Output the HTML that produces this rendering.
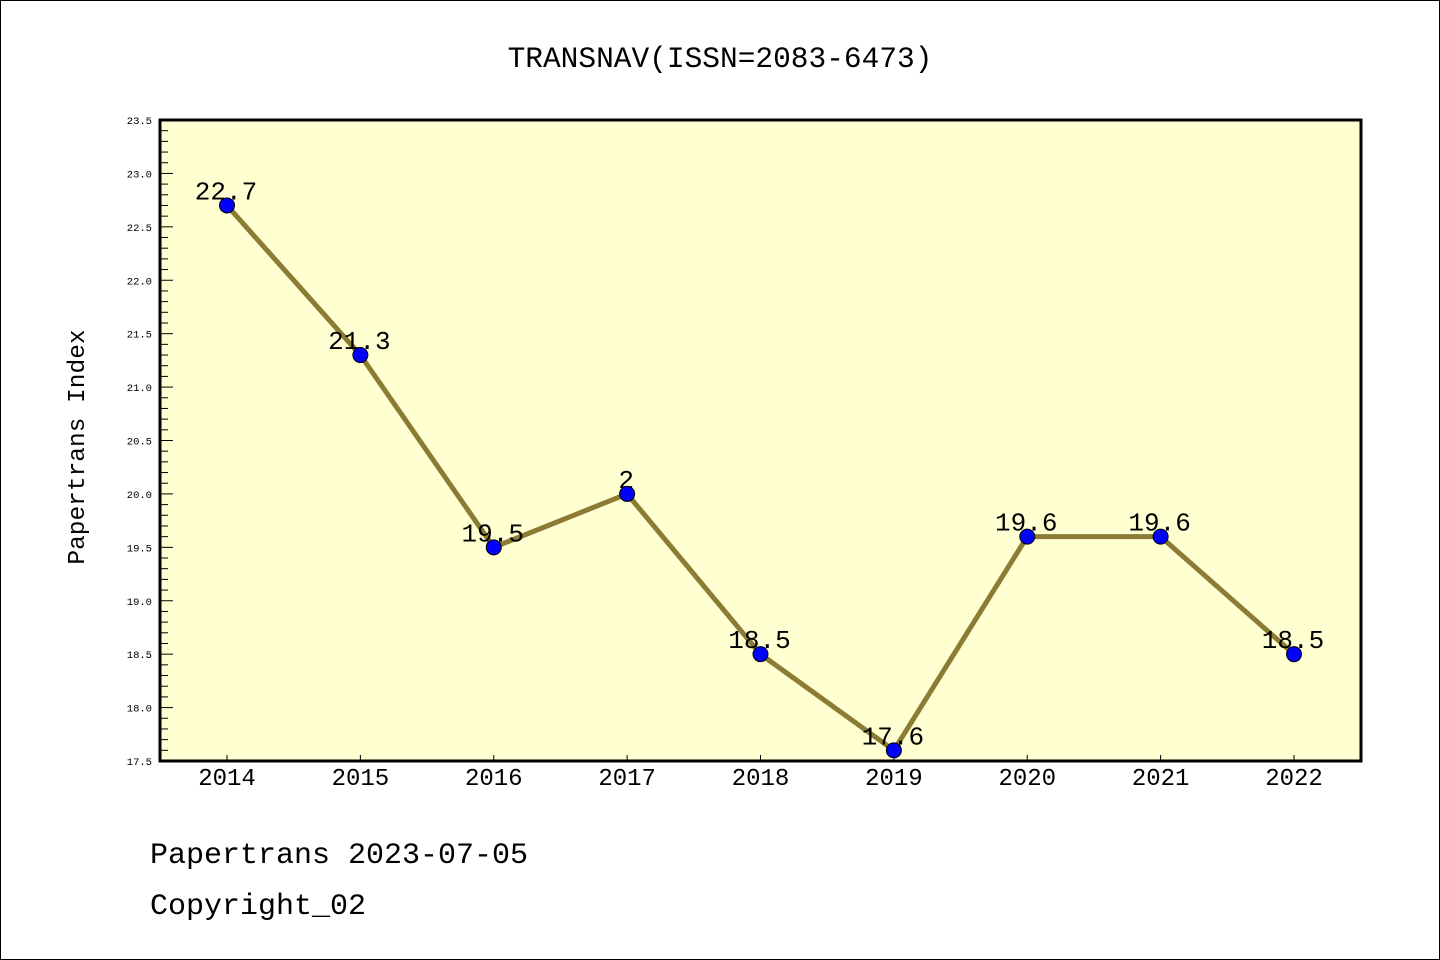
<!DOCTYPE html>
<html><head><meta charset="utf-8"><style>
html,body{margin:0;padding:0;background:#fff}
svg{display:block}
text{font-family:"Liberation Mono","WenQuanYi Zen Hei",monospace}
</style></head><body>
<svg id="chart" width="1440" height="960" xmlns="http://www.w3.org/2000/svg">
<rect x="0.5" y="0.5" width="1439" height="959" fill="#fff" stroke="#000"/>
<text x="720" y="67" font-size="29.5" text-anchor="middle">TRANSNAV(ISSN=2083-6473)</text>
<rect x="160" y="120" width="1201" height="641" fill="#ffffd2"/>
<g id="yaxis"></g>
<g id="xaxis"></g>
<g id="series"></g>
<rect x="160" y="120" width="1201" height="641" fill="none" stroke="#000" stroke-width="3"/>
<text transform="translate(84,447) rotate(-90)" font-size="24.5" text-anchor="middle">Papertrans Index</text>
<text x="150" y="863" font-size="30">Papertrans 2023-07-05</text>
<text x="150" y="914" font-size="30">Copyright_02</text>
</svg>
<script>
const years = [2014,2015,2016,2017,2018,2019,2020,2021,2022];
const values = [22.7,21.3,19.5,20.0,18.5,17.6,19.6,19.6,18.5];
const valueLabels = ["22.7","21.3","19.5","2","18.5","17.6","19.6","19.6","18.5"];
const yTicks = [17.5,18.0,18.5,19.0,19.5,20.0,20.5,21.0,21.5,22.0,22.5,23.0,23.5];
const NS="http://www.w3.org/2000/svg";
const y0=17.5,y1=23.5,py0=761,py1=120;
const X=i=>227+i*(1294-227)/(years.length-1);
const Y=v=>py0-(v-y0)/(y1-y0)*(py0-py1);
function mk(t,a,p){const e=document.createElementNS(NS,t);for(const k in a)e.setAttribute(k,a[k]);p.appendChild(e);return e;}
const ya=document.getElementById('yaxis');
for(let v=175;v<=235;v++){
  const y=Y(v/10);const major=v%5===0;
  const l=mk('line',{x1:160,x2:major?173:168,y1:y,y2:y,stroke:'#000','stroke-width':1},ya);
  
  
}
yTicks.forEach(v=>{
  const t=mk('text',{x:152,y:Y(v)+4,'font-size':10.5,'text-anchor':'end'},ya);
  t.textContent=v.toFixed(1);
  
  
});
const xa=document.getElementById('xaxis');
years.forEach((yr,i)=>{
  const l=mk('line',{x1:X(i),x2:X(i),y1:761,y2:755,stroke:'#000'},xa);
  
  
  const t=mk('text',{x:X(i),y:785,'font-size':24,'text-anchor':'middle'},xa);
  t.textContent=yr;
  
  
});
const s=document.getElementById('series');
const pl=mk('polyline',{points:values.map((v,i)=>X(i)+','+Y(v)).join(' '),fill:'none',stroke:'#8b7b35','stroke-width':5},s);


values.forEach((v,i)=>{
  const t=mk('text',{x:X(i)-1,y:Y(v)-6,'font-size':26,'text-anchor':'middle'},s);
  t.textContent=valueLabels[i];
  
  
});
values.forEach((v,i)=>{
  const c=mk('circle',{cx:X(i),cy:Y(v),r:7.5,fill:'#0000ff',stroke:'#000','stroke-width':1},s);
  
  
});
</script>
</body></html>
